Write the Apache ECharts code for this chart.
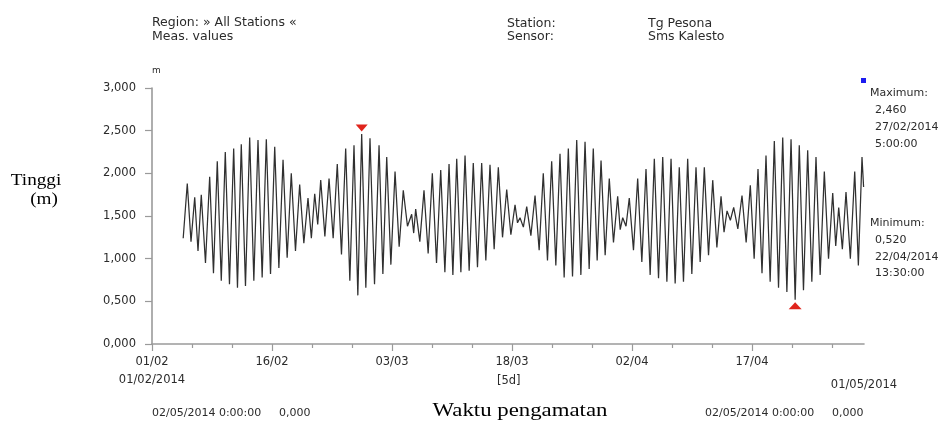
<!DOCTYPE html>
<html>
<head>
<meta charset="utf-8">
<script src="https://cdn.jsdelivr.net/npm/echarts@6/dist/echarts.min.js"></script>
<style>
html, body { margin: 0; padding: 0; background: #fff; }
#chart { width: 944px; height: 422px; }
</style>
</head>
<body>
<div id="chart"></div>
<script>
// time is counted in days from 01/02/2014 00:00
var startDate = Date.UTC(2014, 1, 1);
var axisEndDay = 89; // 01/05/2014
var labelDays = [0, 15, 30, 45, 60, 75];
var tickDays = [5, 10, 20, 25, 35, 40, 50, 55, 65, 70, 80, 85];

// time of every high water
var highDays = [4.41, 5.34, 6.16, 7.21, 8.16, 9.16, 10.21, 11.16, 12.21, 13.25,
  14.29, 15.34, 16.38, 17.41, 18.46, 19.5, 20.34, 21.09, 22.13, 23.16,
  24.21, 25.25, 26.21, 27.25, 28.38, 29.34, 30.38, 31.41, 32.46, 32.96,
  34.0, 35.04, 36.09, 37.13, 38.09, 39.13, 40.16, 41.21, 42.25, 43.29,
  44.34, 45.38, 46.0, 46.84, 47.88, 48.91, 49.96, 51.0, 52.04, 53.09,
  54.13, 55.16, 56.13, 57.16, 58.21, 58.84, 59.66, 60.71, 61.75, 62.79,
  63.84, 64.88, 65.91, 66.96, 68.0, 69.04, 70.09, 71.13, 71.88, 72.71,
  73.75, 74.79, 75.75, 76.75, 77.79, 78.84, 79.88, 80.91, 81.96, 83.0,
  84.04, 85.09, 85.84, 86.75, 87.84, 88.75];

// high water levels (m)
var highs = [1.88, 1.72, 1.75, 1.96, 2.14, 2.25, 2.29, 2.34, 2.42, 2.39,
  2.40, 2.31, 2.16, 2.00, 1.87, 1.71, 1.76, 1.92, 1.94, 2.11,
  2.29, 2.33, 2.46, 2.41, 2.33, 2.19, 2.02, 1.80, 1.52, 1.58,
  1.80, 2.00, 2.04, 2.11, 2.17, 2.21, 2.12, 2.12, 2.10, 2.07,
  1.81, 1.63, 1.48, 1.61, 1.74, 2.00, 2.14, 2.23, 2.29, 2.39,
  2.37, 2.29, 2.15, 1.94, 1.73, 1.48, 1.71, 1.94, 2.05, 2.17,
  2.19, 2.17, 2.07, 2.17, 2.07, 2.07, 1.92, 1.73, 1.56, 1.60,
  1.74, 1.86, 2.05, 2.21, 2.38, 2.42, 2.40, 2.33, 2.27, 2.19,
  2.02, 1.77, 1.60, 1.78, 2.02, 2.19];

// low water levels (m): first value before the first high, last value where the record stops
var lows = [1.24, 1.20, 1.09, 0.95, 0.83, 0.74, 0.70, 0.66, 0.68, 0.74,
  0.78, 0.82, 0.89, 1.01, 1.09, 1.18, 1.24, 1.40, 1.26, 1.24,
  1.05, 0.74, 0.57, 0.66, 0.70, 0.82, 0.93, 1.14, 1.38, 1.30,
  1.20, 1.06, 0.95, 0.84, 0.81, 0.84, 0.86, 0.90, 0.98, 1.11,
  1.25, 1.28, 1.42, 1.37, 1.27, 1.10, 0.98, 0.92, 0.78, 0.79,
  0.81, 0.88, 0.98, 1.04, 1.19, 1.34, 1.38, 1.10, 0.96, 0.81,
  0.77, 0.73, 0.71, 0.73, 0.82, 0.96, 1.04, 1.13, 1.31, 1.45,
  1.35, 1.19, 1.00, 0.83, 0.73, 0.66, 0.61, 0.52, 0.63, 0.73,
  0.81, 1.00, 1.15, 1.11, 1.00, 0.92, 1.84];
var firstLowDay = 3.9;
var lastDay = 88.95;

var sans = 'DejaVu Sans';
var serif = 'Liberation Serif';
var ink = '#2b2b2b';
var axisGrey = '#9a9a9a';

function pad(n) { return (n < 10 ? '0' : '') + n; }
function fmtDay(d) {
  var t = new Date(startDate + d * 86400000);
  return pad(t.getUTCDate()) + '/' + pad(t.getUTCMonth() + 1);
}
function fmtNum(v) { return v.toFixed(3).replace('.', ','); }

// turning points of the trace: low, high, low, high ...
var trace = [[firstLowDay, lows[0]]];
for (var i = 0; i < highs.length; i++) {
  trace.push([highDays[i], highs[i]]);
  var next = i + 1 < highDays.length ? (highDays[i] + highDays[i + 1]) / 2 : lastDay;
  trace.push([next, lows[i + 1]]);
}

function txt(x, y, s, o) {
  o = o || {};
  var align = o.align || 'left';
  return {
    type: 'text', x: x, y: y, scaleX: o.sx || 1, silent: true,
    style: {
      text: s, fill: o.color || ink,
      font: (o.size || 11) + 'px "' + (o.family || sans) + '"',
      textAlign: align, align: align,
      textVerticalAlign: 'middle', verticalAlign: 'middle'
    }
  };
}

var chart = echarts.init(document.getElementById('chart'));
chart.setOption({
  animation: false,
  backgroundColor: '#fff',
  grid: { left: 152, right: 80, top: 88, bottom: 78, outerBoundsMode: 'none' },
  xAxis: [{
    type: 'value', min: 0, max: axisEndDay, position: 'bottom',
    axisLine: { lineStyle: { color: axisGrey, width: 1.6 } },
    axisTick: { customValues: labelDays, length: 7, lineStyle: { color: axisGrey, width: 1.2 } },
    axisLabel: { customValues: labelDays, formatter: fmtDay, margin: 12, color: ink, fontFamily: sans, fontSize: 11.5 },
    splitLine: { show: false }
  }, {
    type: 'value', min: 0, max: axisEndDay, position: 'bottom',
    axisLine: { show: false },
    axisTick: { customValues: tickDays, length: 4, lineStyle: { color: axisGrey, width: 1.2 } },
    axisLabel: { show: false },
    splitLine: { show: false }
  }],
  yAxis: {
    type: 'value', min: 0, max: 3, interval: 0.5,
    name: 'm', nameLocation: 'end', nameGap: 13,
    nameTextStyle: { color: ink, fontFamily: sans, fontSize: 9, align: 'left' },
    axisLine: { show: true, lineStyle: { color: axisGrey, width: 1.6 } },
    axisTick: { show: true, length: 7, lineStyle: { color: axisGrey, width: 1.2 } },
    axisLabel: { formatter: fmtNum, margin: 16, color: ink, fontFamily: sans, fontSize: 11.5 },
    splitLine: { show: false }
  },
  series: [{
    type: 'line', xAxisIndex: 0, data: trace,
    showSymbol: false, silent: true,
    lineStyle: { color: '#303030', width: 1.25 },
    markPoint: {
      silent: true,
      label: { show: false },
      itemStyle: { color: '#e0241c' },
      data: [
        { type: 'max', symbol: 'triangle', symbolRotate: 180, symbolSize: [12, 7], symbolOffset: [0, -6] },
        { type: 'min', symbol: 'triangle', symbolSize: [13, 7], symbolOffset: [0, 6] }
      ]
    }
  }],
  graphic: [
    txt(152, 23, 'Region: \u00bb All Stations \u00ab', { size: 12.5 }),
    txt(152, 37, 'Meas. values', { size: 12.5 }),
    txt(507, 24, 'Station:', { size: 12.5 }),
    txt(507, 37, 'Sensor:', { size: 12.5 }),
    txt(648, 24, 'Tg Pesona', { size: 12.5 }),
    txt(648, 37, 'Sms Kalesto', { size: 12.5 }),

    { type: 'rect', x: 861, y: 78, shape: { width: 5, height: 5 }, style: { fill: '#1c1cf0' }, silent: true },
    txt(870, 93, 'Maximum:'),
    txt(875, 110, '2,460'),
    txt(875, 127, '27/02/2014'),
    txt(875, 144, '5:00:00'),
    txt(870, 223, 'Minimum:'),
    txt(875, 240, '0,520'),
    txt(875, 257, '22/04/2014'),
    txt(875, 273, '13:30:00'),

    txt(152, 380, '01/02/2014', { align: 'center', size: 11.5 }),
    txt(497, 381, '[5d]', { size: 11.5 }),
    txt(864, 385, '01/05/2014', { align: 'center', size: 11.5 }),

    txt(152, 413, '02/05/2014 0:00:00', { size: 11 }),
    txt(279, 413, '0,000', { size: 11 }),
    txt(705, 413, '02/05/2014 0:00:00', { size: 11 }),
    txt(832, 413, '0,000', { size: 11 }),

    txt(36, 181, 'Tinggi', { align: 'center', family: serif, size: 16, sx: 1.2, color: '#000' }),
    txt(44, 200, '(m)', { align: 'center', family: serif, size: 16, sx: 1.2, color: '#000' }),
    txt(520, 411, 'Waktu pengamatan', { align: 'center', family: serif, size: 19, sx: 1.2, color: '#000' })
  ]
});
</script>
</body>
</html>
